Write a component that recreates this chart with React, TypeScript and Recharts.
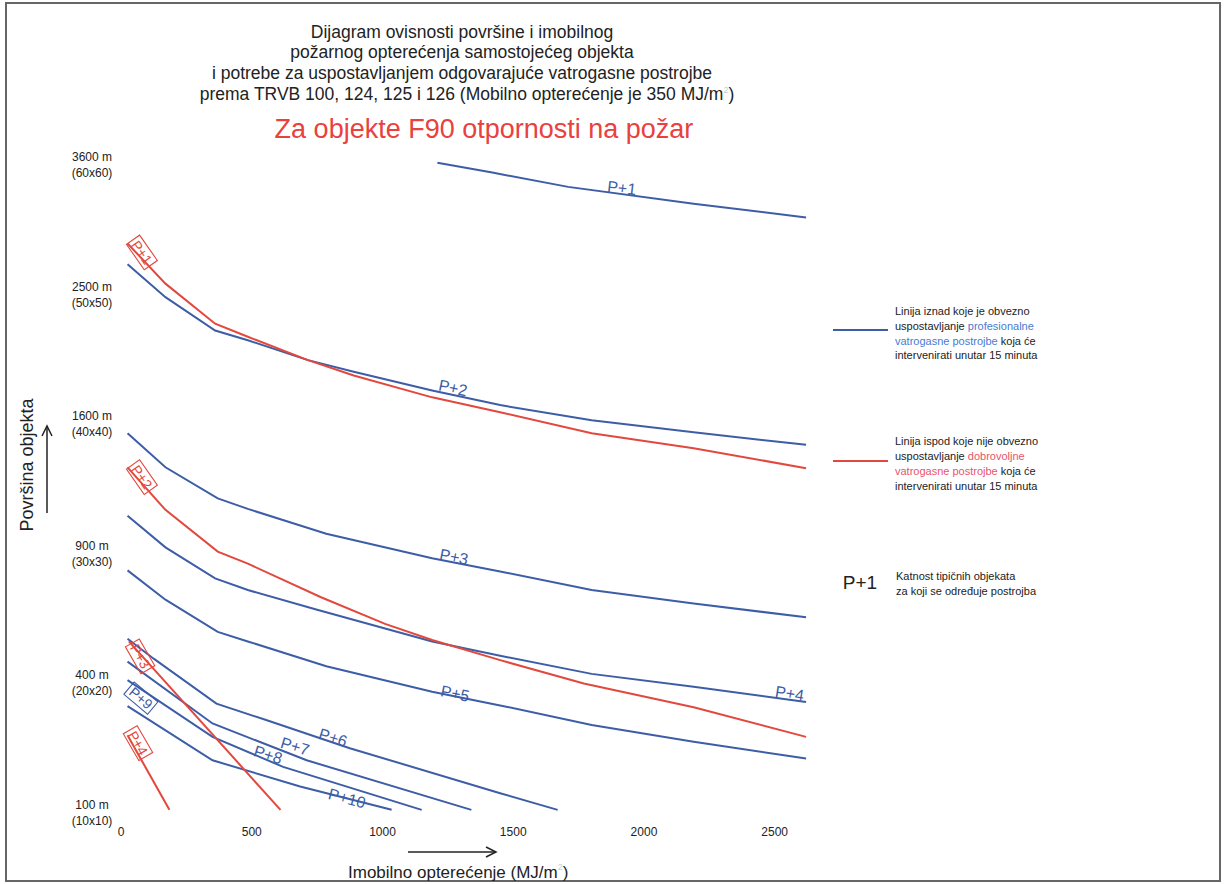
import React from 'react';
import { LineChart, Line, XAxis, YAxis, ReferenceDot } from 'recharts';

const BLUE = '#3d5da6';
const RED = '#e2483d';
const FONT = '"Liberation Sans", Arial, Helvetica, sans-serif';

// x = imobilno opterećenje (MJ/m²), y = površina objekta (m²)
const plavaP1 = [
  { x: 1210, y: 3620 }, { x: 1420, y: 3530 }, { x: 1710, y: 3400 }, { x: 2190, y: 3250 }, { x: 2620, y: 3130 },
];
const plavaP2 = [
  { x: 25, y: 2740 }, { x: 170, y: 2480 }, { x: 360, y: 2230 }, { x: 485, y: 2160 }, { x: 715, y: 2020 },
  { x: 890, y: 1940 }, { x: 1190, y: 1815 }, { x: 1450, y: 1720 }, { x: 1800, y: 1625 }, { x: 2190, y: 1550 },
  { x: 2620, y: 1475 },
];
const crvenaP1 = [
  { x: 25, y: 2910 }, { x: 170, y: 2585 }, { x: 360, y: 2280 }, { x: 485, y: 2185 }, { x: 715, y: 2020 },
  { x: 890, y: 1915 }, { x: 1190, y: 1770 }, { x: 1450, y: 1675 }, { x: 1800, y: 1545 }, { x: 2190, y: 1455 },
  { x: 2620, y: 1340 },
];
const plavaP3 = [
  { x: 25, y: 1545 }, { x: 170, y: 1345 }, { x: 370, y: 1175 }, { x: 485, y: 1120 }, { x: 785, y: 995 },
  { x: 1190, y: 880 }, { x: 1450, y: 820 }, { x: 1800, y: 740 }, { x: 2190, y: 685 }, { x: 2620, y: 630 },
];
const crvenaP2 = [
  { x: 25, y: 1345 }, { x: 170, y: 1115 }, { x: 370, y: 910 }, { x: 485, y: 855 }, { x: 765, y: 710 },
  { x: 1010, y: 605 }, { x: 1190, y: 545 }, { x: 1450, y: 475 }, { x: 1770, y: 400 }, { x: 2190, y: 330 },
  { x: 2620, y: 252 },
];
const plavaP4 = [
  { x: 25, y: 1085 }, { x: 170, y: 930 }, { x: 360, y: 790 }, { x: 485, y: 740 }, { x: 750, y: 660 },
  { x: 1190, y: 540 }, { x: 1450, y: 490 }, { x: 1800, y: 430 }, { x: 2190, y: 390 }, { x: 2620, y: 345 },
];
const plavaP5 = [
  { x: 25, y: 825 }, { x: 170, y: 700 }, { x: 370, y: 575 }, { x: 485, y: 540 }, { x: 785, y: 455 },
  { x: 1190, y: 375 }, { x: 1450, y: 335 }, { x: 1800, y: 282 }, { x: 2190, y: 240 }, { x: 2620, y: 202 },
];
const plavaP6 = [
  { x: 25, y: 550 }, { x: 125, y: 480 }, { x: 365, y: 340 }, { x: 555, y: 295 }, { x: 875, y: 225 },
  { x: 1450, y: 133 }, { x: 1670, y: 105 },
];
const plavaP7 = [{ x: 25, y: 470 }, { x: 350, y: 286 }, { x: 710, y: 198 }, { x: 1340, y: 105 }];
const plavaP8 = [{ x: 25, y: 410 }, { x: 350, y: 252 }, { x: 620, y: 184 }, { x: 1150, y: 105 }];
const plavaP10 = [{ x: 25, y: 333 }, { x: 350, y: 198 }, { x: 685, y: 145 }, { x: 1035, y: 105 }];
const crvenaP3 = [{ x: 30, y: 540 }, { x: 610, y: 105 }];
const crvenaP4 = [{ x: 25, y: 256 }, { x: 185, y: 105 }];

const plaveLinije = [plavaP1, plavaP2, plavaP3, plavaP4, plavaP5, plavaP6, plavaP7, plavaP8, plavaP10];
const crveneLinije = [crvenaP1, crvenaP2, crvenaP3, crvenaP4];

const xTicks = [0, 500, 1000, 1500, 2000, 2500];
const yTicks = [100, 400, 900, 1600, 2500, 3600];

// oznake katnosti uz linije
const oznake = [
  { text: 'P+1', x: 1915, y: 3386, angle: 7, red: false, boxed: false },
  { text: 'P+2', x: 1269, y: 1829, angle: 12, red: false, boxed: false },
  { text: 'P+3', x: 1273, y: 884, angle: 11, red: false, boxed: false },
  { text: 'P+4', x: 2557, y: 368, angle: 9, red: false, boxed: false },
  { text: 'P+5', x: 1277, y: 368, angle: 12, red: false, boxed: false },
  { text: 'P+6', x: 810, y: 249, angle: 18, red: false, boxed: false },
  { text: 'P+7', x: 665, y: 228, angle: 17, red: false, boxed: false },
  { text: 'P+8', x: 562, y: 209, angle: 17, red: false, boxed: false },
  { text: 'P+10', x: 864, y: 123, angle: 15, red: false, boxed: false },
  { text: 'P+9', x: 76, y: 356, angle: 40, red: false, boxed: true },
  { text: 'P+1', x: 80, y: 2836, angle: 55, red: true, boxed: true },
  { text: 'P+2', x: 80, y: 1290, angle: 55, red: true, boxed: true },
  { text: 'P+3', x: 73, y: 488, angle: 60, red: true, boxed: true },
  { text: 'P+4', x: 65, y: 237, angle: 60, red: true, boxed: true },
];

function YTick({ x, y, payload }: any) {
  const v = payload.value;
  const s = Math.round(Math.sqrt(v));
  return (
    <g fontFamily={FONT} fontSize={12} fill="#222">
      <text x={x - 29} y={y - 4} textAnchor="middle">{`${v} m`}</text>
      <text x={x - 29} y={y + 12} textAnchor="middle">{`(${s}x${s})`}</text>
    </g>
  );
}

function XTick({ x, y, payload }: any) {
  return (
    <text x={x} y={y + 10} textAnchor="middle" fontFamily={FONT} fontSize={12} fill="#222">
      {payload.value}
    </text>
  );
}

function Oznaka({ cx, cy, tag }: any) {
  if (cx == null || cy == null) return <g />;
  const color = tag.red ? RED : BLUE;
  const w = tag.text.length * 9 + 4;
  return (
    <g transform={`translate(${cx},${cy}) rotate(${tag.angle})`}>
      {tag.boxed && (
        <rect x={-w / 2} y={-8} width={w} height={16} fill="none" stroke={color} strokeWidth={1.1} />
      )}
      <text x={0} y={5} textAnchor="middle" fontSize={tag.boxed ? 14 : 16} fill={color} fontFamily={FONT}>
        {tag.text}
      </text>
    </g>
  );
}

export default function App() {
  return (
    <div style={{ position: 'absolute', left: 0, top: 0, width: 1225, height: 884, background: '#fff', fontFamily: FONT }}>
      <div style={{ position: 'absolute', left: 21, top: 132 }}>
        <LineChart width={806} height={734} margin={{ top: 20, right: 0, bottom: 0, left: 0 }}>
          <XAxis
            type="number"
            dataKey="x"
            domain={[0, 2700]}
            ticks={xTicks}
            height={40}
            axisLine={false}
            tickLine={false}
            tickSize={0}
            tickMargin={0}
            tick={<XTick />}
            interval={0}
          />
          <YAxis
            type="number"
            dataKey="y"
            scale="sqrt"
            domain={[81, 3721]}
            ticks={yTicks}
            width={100}
            axisLine={false}
            tickLine={false}
            tickSize={0}
            tickMargin={0}
            tick={<YTick />}
            interval={0}
          />
          {plaveLinije.map((d, i) => (
            <Line key={`b${i}`} data={d} dataKey="y" type="linear" stroke={BLUE} strokeWidth={2}
              dot={false} activeDot={false} isAnimationActive={false} />
          ))}
          {crveneLinije.map((d, i) => (
            <Line key={`r${i}`} data={d} dataKey="y" type="linear" stroke={RED} strokeWidth={2}
              dot={false} activeDot={false} isAnimationActive={false} />
          ))}
          {oznake.map((t, i) => (
            <ReferenceDot key={`t${i}`} x={t.x} y={t.y} r={0} ifOverflow="visible"
              shape={(p: any) => <Oznaka {...p} tag={t} />} />
          ))}
        </LineChart>
      </div>

      <svg width={1225} height={884} style={{ position: 'absolute', left: 0, top: 0, pointerEvents: 'none' }} fontFamily={FONT}>
        <rect x={6} y={3} width={1214} height={878} fill="none" stroke="#666" strokeWidth={2} />

        <g fontSize={17.5} fill="#222" textAnchor="middle">
          <text x={462} y={38}>Dijagram ovisnosti površine i imobilnog</text>
          <text x={462} y={58}>požarnog opterećenja samostojećeg objekta</text>
          <text x={462} y={79}>i potrebe za uspostavljanjem odgovarajuće vatrogasne postrojbe</text>
          <text x={467} y={100}>prema TRVB 100, 124, 125 i 126 (Mobilno opterećenje je 350 MJ/m<tspan fill="#ccc" fontSize={9} dy={-7}>2</tspan><tspan dy={7}>)</tspan></text>
        </g>
        <text x={484} y={138} fontSize={27} fill="#e8413e" textAnchor="middle">Za objekte F90 otpornosti na požar</text>

        <text transform="translate(33,465) rotate(-90)" fontSize={18} fill="#222" textAnchor="middle">Površina objekta</text>
        <line x1={47} y1={513} x2={47} y2={426} stroke="#222" strokeWidth={1.5} />
        <polyline points="42,436 47,426 52,436" fill="none" stroke="#222" strokeWidth={1.5} />

        <line x1={408} y1={852} x2={496} y2={852} stroke="#222" strokeWidth={1.5} />
        <polyline points="486,847 496,852 486,857" fill="none" stroke="#222" strokeWidth={1.5} />
        <text x={348} y={878} fontSize={17} fill="#222">Imobilno opterećenje (MJ/m<tspan fill="#ccc" fontSize={9} dy={-8}>2</tspan><tspan dy={8}>)</tspan></text>

        <line x1={833} y1={330} x2={888} y2={330} stroke={BLUE} strokeWidth={2} />
        <g fontSize={11} fill="#222">
          <text x={895} y={315}>Linija iznad koje je obvezno</text>
          <text x={895} y={330}>uspostavljanje <tspan fill="#4a7bd0">profesionalne</tspan></text>
          <text x={895} y={345}><tspan fill="#4a7bd0">vatrogasne postrojbe</tspan> koja će</text>
          <text x={895} y={359}>intervenirati unutar 15 minuta</text>
        </g>
        <line x1={833} y1={461} x2={888} y2={461} stroke={RED} strokeWidth={2} />
        <g fontSize={11} fill="#222">
          <text x={895} y={445}>Linija ispod koje nije obvezno</text>
          <text x={895} y={460}>uspostavljanje <tspan fill="#e8546a">dobrovoljne</tspan></text>
          <text x={895} y={475}><tspan fill="#e8546a">vatrogasne postrojbe</tspan> koja će</text>
          <text x={895} y={490}>intervenirati unutar 15 minuta</text>
        </g>
        <text x={860} y={589} fontSize={19} fill="#222" textAnchor="middle">P+1</text>
        <g fontSize={11} fill="#222">
          <text x={896} y={580}>Katnost tipičnih objekata</text>
          <text x={896} y={595}>za koji se određuje postrojba</text>
        </g>
      </svg>
    </div>
  );
}
